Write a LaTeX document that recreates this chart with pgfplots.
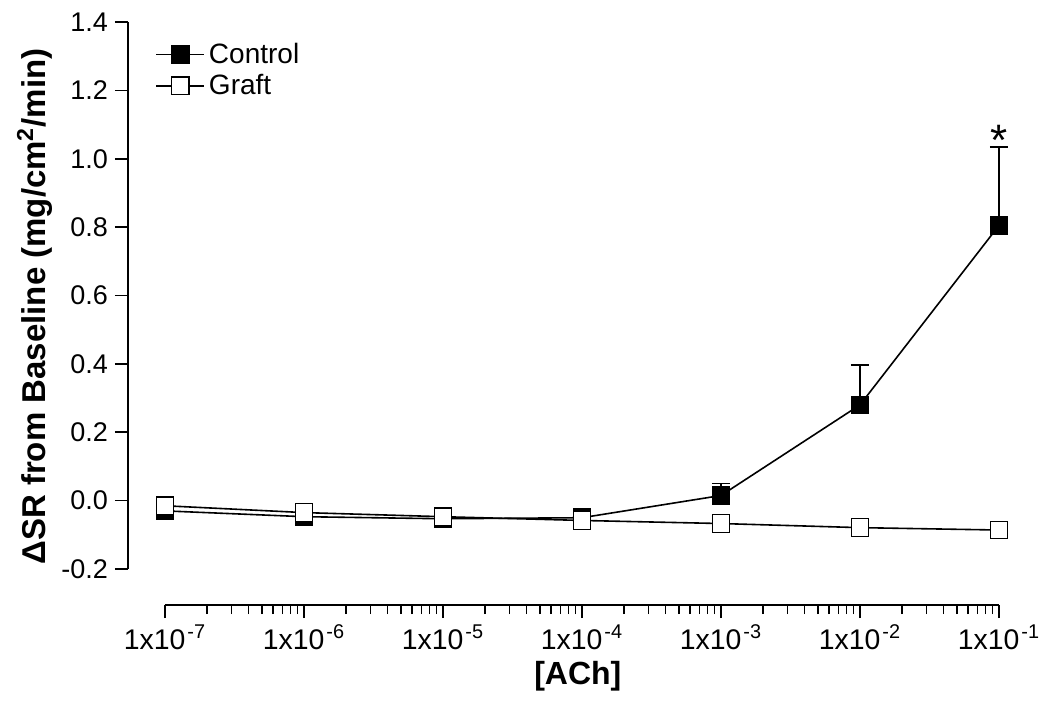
\documentclass[border=0pt]{standalone}
\usepackage{pgfplots}
\pgfplotsset{compat=1.18}
\usepackage{fontspec}
\setmainfont{Liberation Sans}
\begin{document}
\begin{tikzpicture}
\useasboundingbox (-82.5pt,-72.5pt) rectangle (442.5pt,284.5pt);
\begin{axis}[
  at={(0pt,0pt)}, anchor=south west,
  scale only axis,
  width=417pt, height=273.5pt,
  xmode=log,
  xmin=1e-7, xmax=1e-1,
  ymin=-0.2, ymax=1.4,
  clip=false,
  axis x line=bottom, axis y line=left,
  axis line style={-, line width=0.8pt},
  axis x line shift=18pt,
  axis y line shift=18.5pt,
  tick align=outside,
  major tick length=6.5pt,
  minor tick length=4.5pt,
  every tick/.style={black, line width=0.8pt},
  xtick={1e-7,1e-6,1e-5,1e-4,1e-3,1e-2,1e-1},
  xticklabels={1x10\kern1pt\textsuperscript{-7},1x10\kern1pt\textsuperscript{-6},1x10\kern1pt\textsuperscript{-5},1x10\kern1pt\textsuperscript{-4},1x10\kern1pt\textsuperscript{-3},1x10\kern1pt\textsuperscript{-2},1x10\kern1pt\textsuperscript{-1}},
  minor xtick={2e-7,3e-7,4e-7,5e-7,6e-7,7e-7,8e-7,9e-7,
               2e-6,3e-6,4e-6,5e-6,6e-6,7e-6,8e-6,9e-6,
               2e-5,3e-5,4e-5,5e-5,6e-5,7e-5,8e-5,9e-5,
               2e-4,3e-4,4e-4,5e-4,6e-4,7e-4,8e-4,9e-4,
               2e-3,3e-3,4e-3,5e-3,6e-3,7e-3,8e-3,9e-3,
               2e-2,3e-2,4e-2,5e-2,6e-2,7e-2,8e-2,9e-2},
  ytick={-0.2,0,0.2,0.4,0.6,0.8,1.0,1.2,1.4},
  yticklabels={-0.2,0.0,0.2,0.4,0.6,0.8,1.0,1.2,1.4},
  yticklabel style={font=\fontsize{13.5}{16}\selectfont},
  xticklabel style={font=\fontsize{14.2}{16}\selectfont},
  xlabel={\textbf{[ACh]}},
  ylabel={\textbf{ΔSR from Baseline (mg/cm\textsuperscript{2}/min)}},
  every axis x label/.style={at={(axis description cs:0.495,-0.196)}, anchor=center, font=\fontsize{16}{18}\selectfont},
  every axis y label/.style={at={(axis description cs:-0.156,0.48)}, anchor=center, rotate=90, font=\fontsize{16.5}{18}\selectfont},
  legend style={at={(rel axis cs:-0.012,0.97)}, anchor=north west, draw=none, fill=none,
                font=\fontsize{14}{16.5}\selectfont, inner sep=0pt},
  legend cell align=left,
  legend image code/.code={\draw[mark repeat=2,mark phase=2,#1] plot coordinates {(0pt,0pt) (12pt,0pt) (24pt,0pt)};},
]
\addplot[black, line width=0.8pt, mark=square*, mark size=4.4pt, mark options={fill=black, line width=0.6pt},
  error bars/.cd, y dir=plus, y explicit,
  error bar style={line width=0.8pt},
  error mark options={rotate=90, mark size=4.5pt, line width=0.8pt}]
  table[x=x, y=y, y error=e] {
  x     y      e
  1e-7  -0.030 0
  1e-6  -0.047 0
  1e-5  -0.053 0
  1e-4  -0.050 0
  1e-3   0.015 0.035
  1e-2   0.280 0.117
  1e-1   0.805 0.230
  };
\addlegendentry{Control}
\addplot[black, line width=0.8pt, mark=square*, mark size=4.4pt, mark options={fill=white, line width=0.6pt}]
  table[x=x, y=y] {
  x     y
  1e-7  -0.015
  1e-6  -0.035
  1e-5  -0.047
  1e-4  -0.058
  1e-3  -0.067
  1e-2  -0.079
  1e-1  -0.086
  };
\addlegendentry{Graft}
\node[anchor=base, font=\fontsize{22}{22}\selectfont] at (axis cs:0.1,1.01) {*};
\end{axis}
\end{tikzpicture}
\end{document}
